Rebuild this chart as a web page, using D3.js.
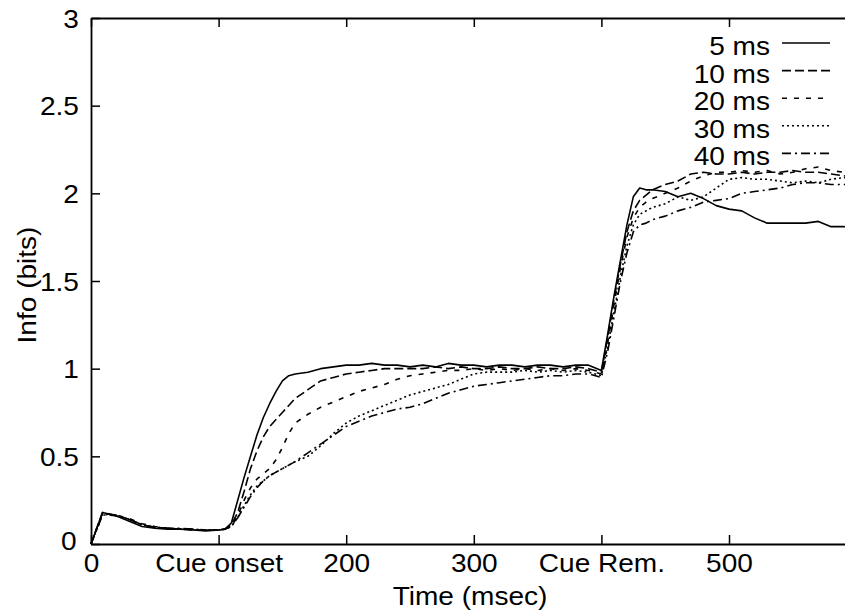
<!DOCTYPE html>
<html>
<head>
<meta charset="utf-8">
<script src="https://cdn.jsdelivr.net/npm/d3@7"></script>
<style>
  html, body { margin: 0; padding: 0; background: #fff; }
  svg { display: block; }
  text { font-family: "Liberation Sans", Arial, Helvetica, sans-serif; fill: #000; }
</style>
</head>
<body>
<svg id="chart" width="845" height="610"></svg>
<script>
// ---------------- data ----------------
const times = [0, 5, 9, 15, 20, 30, 40, 50, 60, 70, 80, 90, 100, 105,
  110, 115, 120, 125, 130, 135, 140, 145, 150, 155, 160, 170, 180, 190, 200,
  210, 220, 230, 240, 250, 260, 270, 280, 290, 300, 310, 320, 330, 340, 350,
  360, 370, 380, 390, 400, 405, 410, 415, 420, 425, 430, 435, 440, 450, 460,
  470, 480, 490, 500, 510, 520, 530, 540, 550, 560, 570, 580, 590, 600];

const info5ms = [0, 0.10, 0.18, 0.17, 0.16, 0.13, 0.10, 0.09, 0.085, 0.085, 0.08, 0.075, 0.08, 0.085,
  0.12, 0.25, 0.38, 0.50, 0.62, 0.72, 0.80, 0.87, 0.93, 0.96, 0.97, 0.98, 1.00, 1.01, 1.02,
  1.02, 1.03, 1.02, 1.02, 1.01, 1.02, 1.01, 1.03, 1.02, 1.02, 1.01, 1.02, 1.02, 1.01, 1.02,
  1.02, 1.01, 1.02, 1.02, 0.99, 1.20, 1.42, 1.62, 1.82, 1.98, 2.03, 2.02, 2.02, 2.01, 1.98,
  2.00, 1.97, 1.93, 1.91, 1.90, 1.86, 1.83, 1.83, 1.83, 1.83, 1.84, 1.81, 1.81, 1.80];

const info10ms = [0, 0.10, 0.18, 0.17, 0.165, 0.14, 0.11, 0.095, 0.09, 0.085, 0.08, 0.08, 0.078, 0.085,
  0.11, 0.18, 0.30, 0.43, 0.53, 0.61, 0.67, 0.71, 0.75, 0.79, 0.83, 0.88, 0.93, 0.95, 0.97,
  0.98, 0.99, 1.00, 1.00, 1.00, 1.00, 1.01, 1.00, 1.01, 1.00, 1.00, 1.01, 1.00, 1.00, 1.01,
  1.00, 1.00, 1.01, 1.00, 0.98, 1.18, 1.40, 1.60, 1.78, 1.90, 1.96, 1.99, 2.02, 2.05, 2.07,
  2.11, 2.12, 2.11, 2.11, 2.12, 2.11, 2.12, 2.12, 2.13, 2.12, 2.12, 2.11, 2.10, 2.09];

const info20ms = [0, 0.10, 0.17, 0.17, 0.165, 0.145, 0.115, 0.10, 0.09, 0.085, 0.085, 0.08, 0.08, 0.085,
  0.10, 0.16, 0.25, 0.32, 0.37, 0.40, 0.43, 0.48, 0.55, 0.63, 0.69, 0.74, 0.78, 0.81, 0.84,
  0.87, 0.89, 0.91, 0.94, 0.96, 0.97, 0.98, 0.99, 0.99, 1.00, 0.99, 1.00, 0.99, 1.00, 0.99,
  1.00, 0.99, 1.00, 0.99, 0.97, 1.15, 1.37, 1.58, 1.75, 1.86, 1.92, 1.95, 1.97, 2.00, 2.03,
  2.07, 2.10, 2.12, 2.12, 2.13, 2.12, 2.13, 2.11, 2.12, 2.14, 2.15, 2.13, 2.12, 2.12];

const info30ms = [0, 0.09, 0.17, 0.165, 0.16, 0.14, 0.11, 0.095, 0.09, 0.085, 0.08, 0.08, 0.08, 0.085,
  0.10, 0.15, 0.22, 0.28, 0.33, 0.36, 0.39, 0.41, 0.43, 0.45, 0.47, 0.50, 0.56, 0.63, 0.69,
  0.73, 0.76, 0.79, 0.82, 0.85, 0.87, 0.89, 0.91, 0.94, 0.97, 0.98, 0.98, 0.98, 0.99, 0.98,
  0.99, 0.98, 0.99, 0.98, 0.96, 1.13, 1.33, 1.53, 1.70, 1.82, 1.88, 1.90, 1.92, 1.94, 1.98,
  1.96, 1.98, 2.03, 2.08, 2.09, 2.08, 2.08, 2.07, 2.06, 2.07, 2.06, 2.08, 2.09, 2.08];

const info40ms = [0, 0.09, 0.165, 0.165, 0.16, 0.14, 0.11, 0.095, 0.09, 0.09, 0.085, 0.08, 0.08, 0.085,
  0.10, 0.15, 0.21, 0.27, 0.32, 0.36, 0.39, 0.41, 0.43, 0.45, 0.47, 0.52, 0.57, 0.62, 0.67,
  0.70, 0.73, 0.75, 0.77, 0.78, 0.80, 0.83, 0.86, 0.88, 0.90, 0.91, 0.92, 0.93, 0.94, 0.95,
  0.96, 0.96, 0.97, 0.97, 0.95, 1.10, 1.30, 1.50, 1.66, 1.78, 1.82, 1.83, 1.85, 1.87, 1.90,
  1.92, 1.95, 1.96, 1.97, 2.00, 2.01, 2.02, 2.03, 2.05, 2.06, 2.06, 2.05, 2.05, 2.05];

const seriesNames = ["5 ms", "10 ms", "20 ms", "30 ms", "40 ms"];
const seriesValues = [info5ms, info10ms, info20ms, info30ms, info40ms];

const xTickValues = [0, 100, 200, 300, 400, 500, 600];
const xTickLabels = ["0", "Cue onset", "200", "300", "Cue Rem.", "500", ""];
const yTickValues = [0, 0.5, 1, 1.5, 2, 2.5, 3];
const yTickLabels = ["0", "0.5", "1", "1.5", "2", "2.5", "3"];

const xTitle = "Time (msec)";
const yTitle = "Info (bits)";

// ---------------- drawing ----------------
const dashes = ["none", "9,4", "5,7", "2,3", "9,4,2,4"];
const FS = 25.5, SX = 1.1;

const svg = d3.select("#chart");
const x = d3.scaleLinear().domain([0, 600]).range([91, 856.6]);
const y = d3.scaleLinear().domain([0, 3]).range([544, 18]);

// lines
const line = d3.line().x((d, i) => x(times[i])).y(d => y(d));
seriesValues.forEach((vals, k) => {
  svg.append("path")
    .datum(vals)
    .attr("d", line)
    .attr("fill", "none")
    .attr("stroke", "#000")
    .attr("stroke-width", 1.6)
    .attr("stroke-dasharray", dashes[k])
    .attr("stroke-linejoin", "round");
});

// axes
function styleAxis(g) {
  g.select(".domain").attr("stroke", "#000").attr("stroke-width", 1.8);
  g.selectAll(".tick line").attr("stroke", "#000").attr("stroke-width", 1.5);
  g.selectAll("text").attr("font-size", FS + "px")
    .attr("font-family", '"Liberation Sans", Arial, sans-serif');
}

const gx = svg.append("g").attr("transform", `translate(0,${y(0)})`)
  .call(d3.axisBottom(x).tickValues(xTickValues)
    .tickFormat((d, i) => xTickLabels[i]).tickSizeInner(-9).tickSizeOuter(0).tickPadding(10));
styleAxis(gx);
gx.selectAll("text").attr("dy", null).attr("y", 28).attr("transform", `scale(${SX},1)`);

const gxTop = svg.append("g").attr("transform", `translate(0,${y(3)})`)
  .call(d3.axisTop(x).tickValues(xTickValues).tickFormat("").tickSizeInner(-9).tickSizeOuter(0));
styleAxis(gxTop);

const gy = svg.append("g").attr("transform", `translate(${x(0)},0)`)
  .call(d3.axisLeft(y).tickValues(yTickValues)
    .tickFormat((d, i) => yTickLabels[i]).tickSizeInner(-9).tickSizeOuter(0).tickPadding(11));
styleAxis(gy);
gy.selectAll("text").attr("transform", `scale(${SX},1)`).attr("dy", "0.36em");
gy.selectAll(".tick").filter(d => d === 0).select("text").attr("dy", "0.2em").attr("x", -13);

const gyR = svg.append("g").attr("transform", `translate(${x(600)},0)`)
  .call(d3.axisRight(y).tickValues(yTickValues).tickFormat("").tickSizeInner(-9).tickSizeOuter(0));
styleAxis(gyR);

// titles
svg.append("text")
  .attr("transform", `translate(${(x(0) + 845) / 2 + 2},605) scale(${SX},1)`)
  .attr("text-anchor", "middle").attr("font-size", FS + "px").text(xTitle);

svg.append("text")
  .attr("transform", `translate(36,285) rotate(-90) scale(${SX},1)`)
  .attr("text-anchor", "middle").attr("font-size", FS + "px").text(yTitle);

// legend
const legend = svg.append("g");
seriesNames.forEach((name, k) => {
  const base = 55 + k * 27.6;
  legend.append("text")
    .attr("transform", `translate(770,${base}) scale(${SX},1)`)
    .attr("text-anchor", "end").attr("font-size", FS + "px").text(name);
  legend.append("line")
    .attr("x1", 782).attr("x2", 830)
    .attr("y1", base - 12).attr("y2", base - 12)
    .attr("stroke", "#000").attr("stroke-width", 1.6)
    .attr("stroke-dasharray", dashes[k]);
});
</script>
</body>
</html>
